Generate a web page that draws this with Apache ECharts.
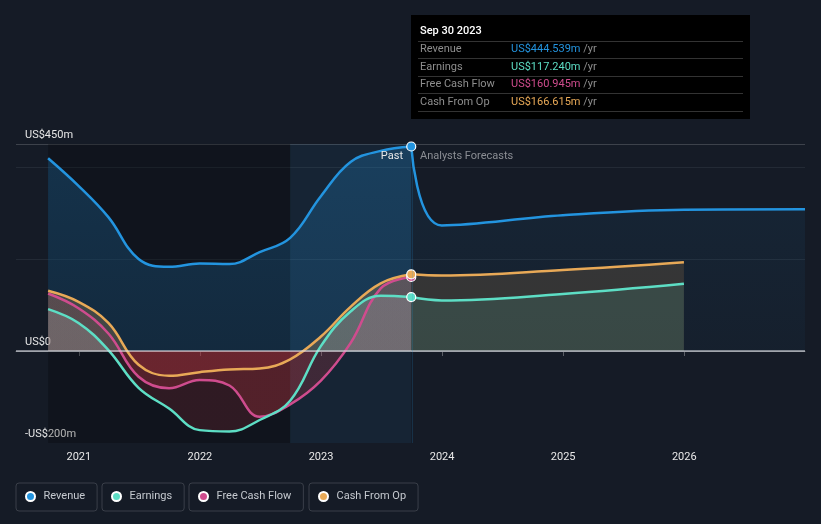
<!DOCTYPE html>
<html><head><meta charset="utf-8">
<script src="https://cdn.jsdelivr.net/npm/echarts@6/dist/echarts.min.js"></script>
<style>html,body{margin:0;padding:0;background:#151b26;}#c{width:821px;height:524px;}</style>
</head><body><div id="c"></div>
<script>
// ---------- data ----------
const pastDates = ['2020-09-30','2020-12-31','2021-03-31','2021-06-30','2021-09-30','2021-12-31','2022-03-31','2022-06-30','2022-09-30','2022-12-31','2023-03-31','2023-06-30','2023-09-30'];
const revenuePast  = [419, 359, 291, 200, 183, 190, 189, 215, 246, 336, 411, 435, 444.539];
const earningsPast = [91, 61, 2, -80, -125, -172, -175, -150, -108, 10, 86, 120, 117.240];
const fcfPast      = [125, 93, 38, -56, -81, -63, -75, -143, -116, -65, 17, 136, 160.945];
const cfoPast      = [131, 107, 61, -30, -54, -46, -40, -38, -18, 31, 96, 147, 166.615];
const forecastDates = ['2023-09-30','2023-12-31','2024-12-31','2025-12-31','2026-12-31'];
const revenueForecast  = [444.539, 273, 295, 307, 308];
const earningsForecast = [117.240, 110, 124, 146];
const cfoForecast      = [166.615, 164, 176, 193];
const xTickYears = [2021, 2022, 2023, 2024, 2025, 2026];
const yTickLabels = {'-200': '-US$200m', '0': 'US$0', '450': 'US$450m'};
const seriesNames = ['Revenue', 'Earnings', 'Free Cash Flow', 'Cash From Op'];
const tooltipTitle = 'Sep 30 2023';
const axisStart = '2020-06-25';

// ---------- helpers ----------
function toYear(s) {
  const [y, m, d] = s.split('-').map(Number);
  const t = Date.UTC(y, m - 1, d), a = Date.UTC(y, 0, 1), b = Date.UTC(y + 1, 0, 1);
  return y + (t - a) / (b - a);
}
const C = {rev:'#2394df', earn:'#5ddec5', fcf:'#cf4c8e', cfo:'#e8a957'};
const FONT = 'Roboto';
const chart = echarts.init(document.getElementById('c'), null, {renderer:'canvas'});
const pair = (d, v) => v.map((y, i) => [toYear(d[i]), y]);
const lastIdx = pastDates.length - 1;
const markerSize = (v, p) => p.dataIndex === lastIdx ? 9 : 0;

function splitFill(pos, neg, zeroFrac) {
  return {type:'linear', x:0, y:0, x2:0, y2:524, global:true, colorStops:[
    {offset:0, color:pos},{offset:zeroFrac, color:pos},{offset:zeroFrac, color:neg},{offset:1, color:neg}]};
}

function build(zf) {
  const lineBase = {type:'line', smooth:0.4, silent:true, animation:false,
    lineStyle:{width:2.5}, emphasis:{disabled:true}};
  const past = (name, data, color, area) => Object.assign({}, lineBase, {
    name, data: pair(pastDates, data), color, showSymbol:true, symbol:'circle', symbolSize:markerSize,
    itemStyle:{color, borderColor:'#ffffff', borderWidth:1.2}, areaStyle:{color:area, opacity:1}});
  const fut = (name, data, color, area) => Object.assign({}, lineBase, {
    name, data: pair(forecastDates, data), color, showSymbol:false, areaStyle:{color:area, opacity:1}});

  const revPast = past(seriesNames[0], revenuePast, C.rev,
    {type:'linear', x:0, y:0, x2:0, y2:1, colorStops:[{offset:0,color:'rgba(35,148,223,0.24)'},{offset:1,color:'rgba(35,148,223,0.17)'}]});
  revPast.markArea = {silent:true, data:[
    [{xAxis:toYear(pastDates[0]), itemStyle:{color:'rgba(0,0,0,0.23)'}}, {xAxis:toYear(pastDates[8])}],
    [{xAxis:toYear(pastDates[8]), itemStyle:{color:'rgba(35,148,223,0.08)'}}, {xAxis:toYear(pastDates[lastIdx])}]
  ]};
  revPast.markLine = {silent:true, symbol:'none', label:{show:false}, data:[
    {yAxis:0, lineStyle:{color:'rgba(225,228,235,0.7)', width:1.5, type:'solid'}},
    {xAxis:toYear(pastDates[lastIdx]), lineStyle:{color:'rgba(35,148,223,0.18)', width:1, type:'solid'}}
  ]};

  const series = [
    revPast,
    fut(seriesNames[0], revenueForecast, C.rev,
      {type:'linear', x:0, y:0, x2:0, y2:1, colorStops:[{offset:0,color:'rgba(35,148,223,0.09)'},{offset:1,color:'rgba(35,148,223,0.04)'}]}),
    past(seriesNames[2], fcfPast, C.fcf, splitFill('rgba(207,76,142,0.14)', 'rgba(225,60,70,0.2)', zf)),
    past(seriesNames[3], cfoPast, C.cfo, splitFill('rgba(232,169,87,0.22)', 'rgba(225,60,70,0.16)', zf)),
    fut(seriesNames[3], cfoForecast, C.cfo, 'rgba(232,169,87,0.15)'),
    past(seriesNames[1], earningsPast, C.earn, splitFill('rgba(220,228,232,0.17)', 'rgba(225,60,70,0.15)', zf)),
    fut(seriesNames[1], earningsForecast, C.earn, 'rgba(93,222,197,0.12)')
  ];

  const splitColors = [];
  for (let v = -200; v <= 450; v += 50) {
    splitColors.push(v === 450 ? '#3d424b' : (v === 200 || v === 400) ? '#232a35' : 'rgba(0,0,0,0)');
  }

  const legendLeft = [16, 102, 189, 309];
  const legends = seriesNames.map((n, i) => ({
    data:[n], left:legendLeft[i], top:483, icon:'circle', itemWidth:16, itemHeight:9,
    padding:[8,12,9,9], borderColor:'#3a3f49', borderWidth:1, borderRadius:3, selectedMode:false,
    textStyle:{color:'#c5c9cf', fontSize:11, fontFamily:FONT}
  }));

  const rows = [
    [seriesNames[0], revenuePast[lastIdx], C.rev],
    [seriesNames[1], earningsPast[lastIdx], C.earn],
    [seriesNames[2], fcfPast[lastIdx], C.fcf],
    [seriesNames[3], cfoPast[lastIdx], C.cfo]
  ];
  const graphics = [
    {type:'rect', shape:{x:411, y:15, width:339, height:104}, style:{fill:'#000000'}, z:100},
    {type:'text', x:420, y:31, z:101, style:{text:tooltipTitle, fill:'#ffffff', fontSize:11, fontWeight:500, fontFamily:FONT, verticalAlign:'middle'}}
  ];
  const sepY = [41.5, 58.5, 76.5, 93.5, 111.5];
  sepY.forEach(y => graphics.push({type:'line', z:101, shape:{x1:418, y1:y, x2:743, y2:y}, style:{stroke:'#333333', lineWidth:1}}));
  rows.forEach((r, i) => {
    const y = 49.5 + i * 17.5;
    graphics.push({type:'text', x:420, y, z:101, style:{text:r[0], fill:'#8e8e8e', fontSize:11, fontFamily:FONT, verticalAlign:'middle'}});
    graphics.push({type:'text', x:511, y, z:101, style:{text:'{v|US$' + r[1].toFixed(3) + 'm}{u| /yr}', verticalAlign:'middle', fontFamily:FONT, fontSize:11,
      rich:{v:{fill:r[2], fontSize:11, fontFamily:FONT}, u:{fill:'#8e8e8e', fontSize:11, fontFamily:FONT}}}});
  });
  graphics.push({type:'text', x:403, y:156, z:50, style:{text:'Past', fill:'#e8e8e8', fontSize:11, fontFamily:FONT, align:'right', verticalAlign:'middle'}});
  graphics.push({type:'text', x:420, y:156, z:50, style:{text:'Analysts Forecasts', fill:'#8b8e94', fontSize:11, fontFamily:FONT, verticalAlign:'middle'}});

  return {
    backgroundColor:'#151b26',
    animation:false,
    textStyle:{fontFamily:FONT},
    grid:{left:16, right:16, top:144, bottom:81, containLabel:false},
    xAxis:{type:'value', min:toYear(axisStart), max:toYear(forecastDates[forecastDates.length-1]),
      axisLine:{lineStyle:{color:'#5b5f67', width:1}},
      axisTick:{show:true, length:5, lineStyle:{color:'#5b5f67'}, customValues:xTickYears},
      axisLabel:{color:'#e8e8e8', fontSize:11, margin:9, customValues:xTickYears,
        formatter:(v) => Number.isInteger(v) ? String(v) : ''},
      splitLine:{show:false}},
    yAxis:{type:'value', min:-200, max:450, interval:50,
      axisLine:{show:false}, axisTick:{show:false},
      axisLabel:{inside:true, margin:9, verticalAlign:'bottom', padding:[0,0,3,0], color:'#e6e6e6', fontSize:11,
        formatter:(v) => yTickLabels[String(v)] || ''},
      splitLine:{show:true, lineStyle:{color:splitColors, width:1}}},
    legend:legends,
    graphic:graphics,
    series
  };
}

chart.setOption(build(351/524));
const zeroPx = chart.convertToPixel({yAxisIndex:0}, 0);
chart.setOption(build(zeroPx/524), {notMerge:true});
</script>
</body></html>
